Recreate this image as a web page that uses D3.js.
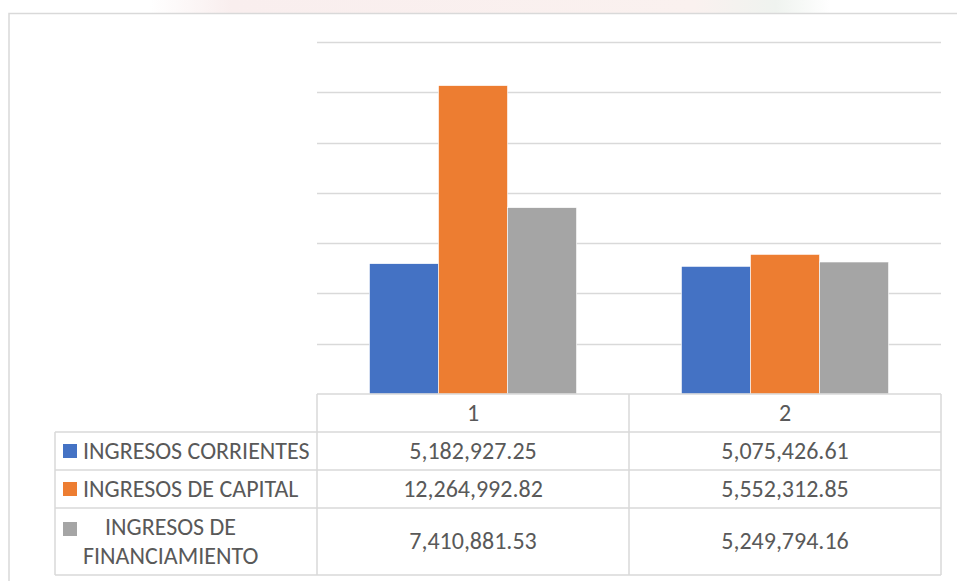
<!DOCTYPE html>
<html>
<head>
<meta charset="utf-8">
<script src="https://cdn.jsdelivr.net/npm/d3@7"></script>
<style>
  html, body { margin: 0; padding: 0; background: #ffffff; }
  svg { display: block; }
  text { font-family: Carlito, Lato, "Liberation Sans", sans-serif; fill: #595959; }
</style>
</head>
<body>
<svg id="chart" width="957" height="581"></svg>
<script>
// ---- data ----
const categories = ["1", "2"];
const seriesNames = ["INGRESOS CORRIENTES", "INGRESOS DE CAPITAL", "INGRESOS DE FINANCIAMIENTO"];
const corrientes = [5182927.25, 5075426.61];
const capital = [12264992.82, 5552312.85];
const financiamiento = [7410881.53, 5249794.16];
const seriesColors = ["#4472C4", "#ED7D31", "#A5A5A5"];
const yTicks = [0, 2000000, 4000000, 6000000, 8000000, 10000000, 12000000, 14000000];

const seriesValues = [corrientes, capital, financiamiento];

const svg = d3.select("#chart");
const W = 957, H = 581;

// faint watermark strip above the chart frame
const wm = svg.append("defs").append("linearGradient").attr("id", "wm")
  .attr("x1", "0%").attr("x2", "100%");
wm.append("stop").attr("offset", "0%").attr("stop-color", "#ffffff");
wm.append("stop").attr("offset", "12%").attr("stop-color", "#f9eeee");
wm.append("stop").attr("offset", "80%").attr("stop-color", "#faf1ef");
wm.append("stop").attr("offset", "92%").attr("stop-color", "#eff3ef");
wm.append("stop").attr("offset", "100%").attr("stop-color", "#ffffff");
svg.append("rect").attr("x", 150).attr("y", 0).attr("width", 680).attr("height", 13)
  .attr("fill", "url(#wm)");

// outer chart frame
svg.append("rect").attr("x", 9).attr("y", 13.5).attr("width", W).attr("height", H)
  .attr("fill", "#ffffff").attr("stroke", "#d9d9d9").attr("stroke-width", 1.5);

// ---- scales ----
const plotLeft = 317, plotRight = 941, plotTop = 42, plotBottom = 394;
const x0 = d3.scaleBand().domain(categories).range([plotLeft, plotRight]).padding(0);
const x1 = d3.scaleBand().domain(seriesNames).range([0, x0.bandwidth()])
  .paddingInner(0).paddingOuter(0.76);
const y = d3.scaleLinear().domain([0, 14000000]).range([plotBottom, plotTop]);

// gridlines
svg.append("g").selectAll("line").data(yTicks.filter(d => d > 0)).join("line")
  .attr("x1", plotLeft).attr("x2", plotRight)
  .attr("y1", d => Math.round(y(d)) + 0.5).attr("y2", d => Math.round(y(d)) + 0.5)
  .attr("stroke", "#d9d9d9").attr("stroke-width", 1.5);

// bars
const g = svg.append("g");
categories.forEach((c, ci) => {
  seriesNames.forEach((s, si) => {
    const v = seriesValues[si][ci];
    g.append("rect")
      .attr("x", x0(c) + x1(s))
      .attr("y", y(v))
      .attr("width", x1.bandwidth())
      .attr("height", y(0) - y(v))
      .attr("fill", seriesColors[si])
      .attr("stroke", "#ffffff").attr("stroke-width", 0.6);
  });
});

// ---- data table ----
const rowEdges = [394, 432, 470, 508, 575];
const legendLeft = 55;
const fmt = d3.format(",.2f");
const tbl = svg.append("g");
const lineColor = "#d9d9d9";
function hline(x1p, x2p, yp) {
  tbl.append("line").attr("x1", x1p).attr("x2", x2p).attr("y1", yp).attr("y2", yp)
    .attr("stroke", lineColor).attr("stroke-width", 1.5);
}
function vline(xp, y1p, y2p) {
  tbl.append("line").attr("x1", xp).attr("x2", xp).attr("y1", y1p).attr("y2", y2p)
    .attr("stroke", lineColor).attr("stroke-width", 1.5);
}
// horizontal lines
hline(plotLeft, plotRight, rowEdges[0]);
for (let i = 1; i < rowEdges.length; i++) hline(legendLeft, plotRight, rowEdges[i]);
// vertical lines
vline(legendLeft, rowEdges[1], rowEdges[4]);
vline(plotLeft, rowEdges[0], rowEdges[4]);
vline(x0("2"), rowEdges[0], rowEdges[4]);
vline(plotRight, rowEdges[0], rowEdges[4]);

const fs = 24;
// header categories
categories.forEach(c => {
  tbl.append("text").attr("x", x0(c) + x0.bandwidth() / 2)
    .attr("y", (rowEdges[0] + rowEdges[1]) / 2 + 7.5)
    .attr("text-anchor", "middle").attr("font-size", fs).text(c);
});
// values
seriesNames.forEach((s, si) => {
  const cy = (rowEdges[si + 1] + rowEdges[si + 2]) / 2 + 7.5;
  categories.forEach((c, ci) => {
    tbl.append("text").attr("x", x0(c) + x0.bandwidth() / 2).attr("y", cy)
      .attr("text-anchor", "middle").attr("font-size", fs)
      .text(fmt(seriesValues[si][ci]));
  });
});
// legend cells
const swatchY = [444, 482, 522];
seriesNames.forEach((s, si) => {
  tbl.append("rect").attr("x", 63).attr("y", swatchY[si]).attr("width", 14).attr("height", 14)
    .attr("fill", seriesColors[si]);
});
tbl.append("text").attr("x", 83).attr("y", 458.5).attr("font-size", fs).text(seriesNames[0]);
tbl.append("text").attr("x", 83).attr("y", 496.5).attr("font-size", fs).text(seriesNames[1]);
const t3 = tbl.append("text").attr("font-size", fs);
const words = seriesNames[2].split(" ");
t3.append("tspan").attr("x", 105).attr("y", 534.5).text(words.slice(0, 2).join(" "));
t3.append("tspan").attr("x", 83).attr("y", 563.5).text(words.slice(2).join(" "));
</script>
</body>
</html>
